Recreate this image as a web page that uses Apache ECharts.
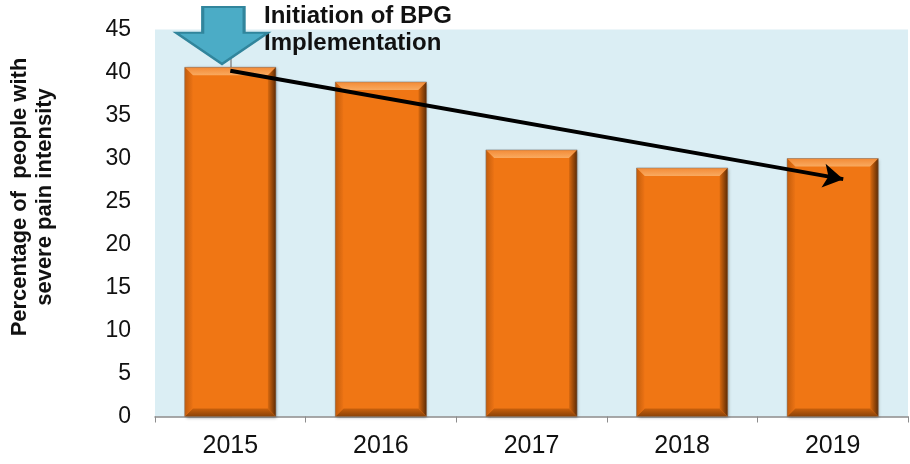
<!DOCTYPE html>
<html>
<head>
<meta charset="utf-8">
<script src="https://cdn.jsdelivr.net/npm/echarts@6/dist/echarts.min.js"></script>
<style>html,body{margin:0;padding:0;background:#fff;}#c{width:910px;height:464px;}</style>
</head>
<body>
<div id="c"></div>
<script>
const categories = ['2015', '2016', '2017', '2018', '2019'];
const values = [40.6, 38.9, 31.0, 28.9, 30.0];
const yTicks = [0, 5, 10, 15, 20, 25, 30, 35, 40, 45];
const trendStart = [0, 40.2];
const trendEnd = [4.07, 27.6];
const markerPoint = [-0.055, 44.3];
const yAxisTitle = 'Percentage of  people with\nsevere pain intensity';
const annotation = 'Initiation of BPG\nImplementation';

const FONT = '"Liberation Sans", Arial, sans-serif';
const chart = echarts.init(document.getElementById('c'), null, {renderer: 'canvas'});

function renderBar(params, api) {
  const top = api.coord([api.value(0), api.value(1)]);
  const bot = api.coord([api.value(0), 0]);
  const w = api.size([1, 0])[0] * 0.605;
  const l = top[0] - w / 2, r = top[0] + w / 2, t = top[1], b = bot[1];
  const s = 8;
  const lin = (x1, y1, x2, y2, c1, c2) => ({type: 'linear', x: x1, y: y1, x2: x2, y2: y2, colorStops: [{offset: 0, color: c1}, {offset: 1, color: c2}]});
  return {
    type: 'group',
    children: [
      {type: 'rect', shape: {x: l, y: t, width: w, height: b - t},
        style: {fill: '#F07614', shadowBlur: 3, shadowColor: 'rgba(0,0,0,0.35)', shadowOffsetX: 1, shadowOffsetY: 1}},
      {type: 'polygon', shape: {points: [[l, t], [r, t], [r - s, t + s], [l + s, t + s]]},
        style: {fill: lin(0, 0, 0, 1, '#F38A35', '#F9AA60')}},
      {type: 'polygon', shape: {points: [[r, t], [r, b], [r - s, b - s], [r - s, t + s]]},
        style: {fill: lin(0, 0, 1, 0, '#D9690F', '#5E2B04')}},
      {type: 'polygon', shape: {points: [[l, b], [r, b], [r - s, b - s], [l + s, b - s]]},
        style: {fill: lin(0, 0, 0, 1, '#C9600C', '#8A4207')}},
      {type: 'polygon', shape: {points: [[l, t], [l + s, t + s], [l + s, b - s], [l, b]]},
        style: {fill: lin(0, 0, 1, 0, '#C35C0B', '#EC7314')}},
      {type: 'rect', shape: {x: l, y: t, width: w, height: b - t},
        style: {fill: 'none', stroke: 'rgba(120,120,120,0.5)', lineWidth: 1}}
    ]
  };
}

const option = {
  animation: false,
  grid: {left: 155, right: 2, top: 29.5, bottom: 47.5, show: true, backgroundColor: '#DBEEF4', borderWidth: 0},
  xAxis: [{
    type: 'category', data: categories,
    axisLine: {lineStyle: {color: '#8C8C8C', width: 1.5}},
    axisTick: {show: true, length: 6, lineStyle: {color: '#8C8C8C'}},
    axisLabel: {fontSize: 25, color: '#111', fontFamily: FONT, margin: 17}
  }, {
    type: 'value', min: -0.5, max: 4.5, show: false
  }],
  yAxis: {
    type: 'value', min: 0, max: 45, interval: 5,
    axisLine: {show: true, lineStyle: {color: '#8C8C8C', width: 1.5}},
    axisTick: {show: true, length: 8, lineStyle: {color: '#8C8C8C'}},
    axisLabel: {fontSize: 23, color: '#111', fontFamily: FONT, margin: 24,
      formatter: v => yTicks.includes(v) ? String(v) : ''},
    splitLine: {show: false}
  },
  series: [{
    type: 'custom', xAxisIndex: 0,
    renderItem: renderBar,
    data: categories.map((c, i) => [i, values[i]]),
    encode: {x: 0, y: 1}
  }, {
    type: 'scatter', xAxisIndex: 1, symbolSize: 0,
    data: [trendStart, trendEnd],
    silent: true,
    markLine: {
      silent: true, symbol: ['none', 'arrow'], symbolSize: [18, 20],
      label: {show: false},
      lineStyle: {color: '#000', width: 4, type: 'solid'},
      data: [[{coord: trendStart}, {coord: trendEnd}]]
    },
    markPoint: {
      silent: true,
      symbol: 'path://M29,0 L74,0 L74,45 L100,45 L50,100 L0,45 L29,45 Z',
      symbolSize: [92, 57],
      itemStyle: {color: '#4BACC6', borderColor: '#31859C', borderWidth: 2.5},
      label: {show: false},
      data: [{coord: markerPoint}]
    }
  }],
  graphic: [{
    type: 'text', left: 264, top: 3,
    style: {text: annotation, font: 'bold 24px ' + FONT, fill: '#111', lineHeight: 27}
  }, {
    type: 'text', x: 32, y: 197, rotation: Math.PI / 2,
    style: {text: yAxisTitle, font: 'bold 22px ' + FONT, fill: '#111', align: 'center', verticalAlign: 'middle', lineHeight: 25}
  }]
};
chart.setOption(option);
</script>
</body>
</html>
